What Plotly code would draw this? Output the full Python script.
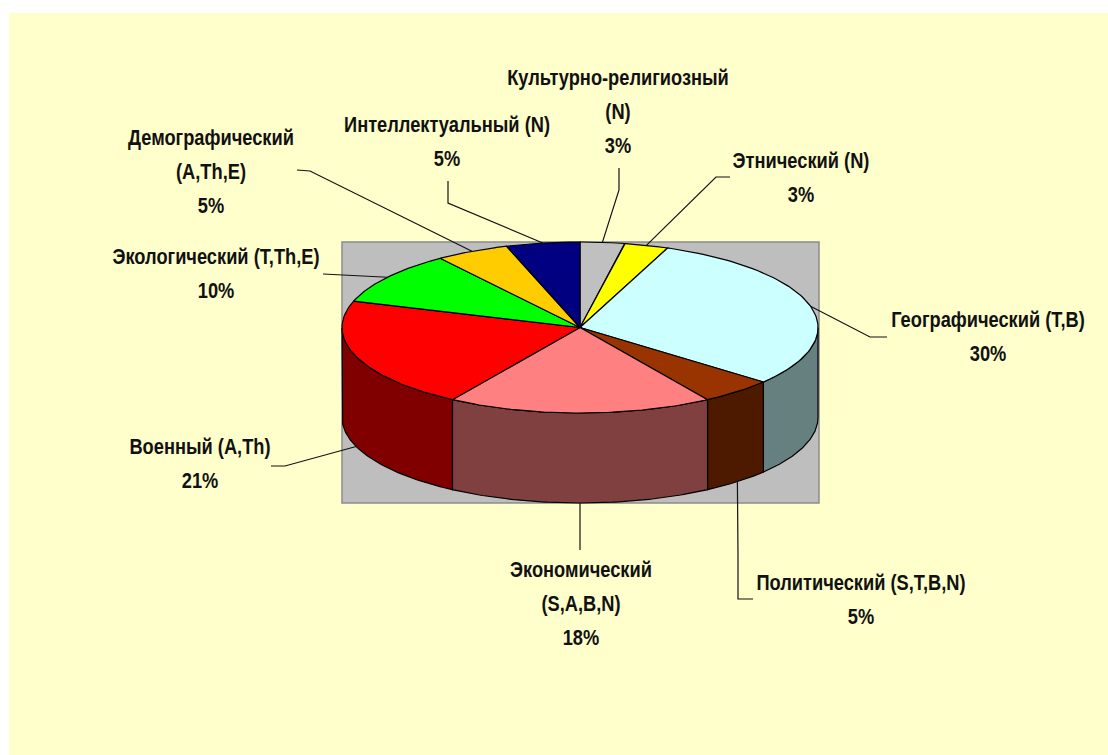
import numpy as np
import plotly.graph_objects as go

# slice data, clockwise from 12 o'clock
names = ["Культурно-религиозный", "Этнический", "Географический", "Политический",
         "Экономический", "Военный", "Экологический", "Демографический", "Интеллектуальный"]
values = [3, 3, 30, 5, 18, 21, 10, 5, 5]
top_colors = ["#C0C0C0", "#FFFF00", "#CCFFFF", "#993300", "#FF8080", "#FF0000", "#00FF00", "#FFCC00", "#000080"]
side_colors = ["#606060", "#808000", "#668080", "#4D1A00", "#804040", "#800000", "#008000", "#806600", "#000040"]

# label lines and where they sit (pixels of the 1108x755 page)
label_lines = [
    ["Культурно-религиозный", "(N)", "3%"],
    ["Этнический (N)", "3%"],
    ["Географический (T,B)", "30%"],
    ["Политический (S,T,B,N)", "5%"],
    ["Экономический", "(S,A,B,N)", "18%"],
    ["Военный (A,Th)", "21%"],
    ["Экологический (T,Th,E)", "10%"],
    ["Демографический", "(A,Th,E)", "5%"],
    ["Интеллектуальный (N)", "5%"],
]
label_x = [618, 801, 988, 861, 581, 200, 216, 211, 447]
label_y = [80, 163, 322, 585, 572, 449, 259, 140, 127]
line_gap = 34

# leader lines: label-side points, the last point is computed on the pie rim
leader_points = [
    [(619, 168), (619, 190)],
    [(730, 177), (716, 177)],
    [(887, 337), (870, 337)],
    [(753, 599), (738, 599), (738, 555)],
    [(580, 550), (580, 503)],
    [(271, 466), (285, 466)],
    [(323, 274), (360, 276)],
    [(297, 170), (310, 171)],
    [(448, 181), (448, 203)],
]

cx, cy, rx, ry, depth = 580, 327.5, 238, 85.5, 90


def rim(t, drop=0):
    t = np.radians(t)
    return cx + rx * np.sin(t), cy - ry * np.cos(t) + drop


bounds = np.cumsum([0] + values) * 3.6

fig = go.Figure()

# walls, only the front half of the pie shows
for i in range(len(values)):
    a, b = max(bounds[i], 90), min(bounds[i + 1], 270)
    if a >= b:
        continue
    t = np.linspace(a, b, 80)
    x1, y1 = rim(t)
    x2, y2 = rim(t[::-1], depth)
    fig.add_trace(go.Scatter(x=np.r_[x1, x2, x1[0]], y=np.r_[y1, y2, y1[0]], mode="lines", fill="toself",
                             fillcolor=side_colors[i], line=dict(color="black", width=1.2), hoverinfo="skip"))

# top faces
for i in range(len(values)):
    t = np.linspace(bounds[i], bounds[i + 1], 80)
    x1, y1 = rim(t)
    fig.add_trace(go.Scatter(x=np.r_[cx, x1, cx], y=np.r_[cy, y1, cy], mode="lines", fill="toself",
                             fillcolor=top_colors[i], line=dict(color="black", width=1.2), hoverinfo="skip"))

# leader lines
for i, pts in enumerate(leader_points):
    mid = (bounds[i] + bounds[i + 1]) / 2
    drop = depth if 90 < mid < 270 else 0
    ex, ey = rim(mid, drop)
    xs = [p[0] for p in pts] + [float(ex)]
    ys = [p[1] for p in pts] + [float(ey)]
    fig.add_trace(go.Scatter(x=xs, y=ys, mode="lines", line=dict(color="#111111", width=1.2), hoverinfo="skip"))

# labels, each text line on its own so the wide line spacing can be kept
for i, lines in enumerate(label_lines):
    fig.add_trace(go.Scatter(x=[label_x[i]] * len(lines), y=[label_y[i] + k * line_gap for k in range(len(lines))],
                             mode="text", text=["<b>%s</b>" % s for s in lines], textposition="middle center",
                             textfont=dict(family="Liberation Sans", size=22, color="#111111"),
                             hoverinfo="skip"))

fig.update_layout(
    width=1108, height=755, margin=dict(l=0, r=0, t=0, b=0), showlegend=False,
    paper_bgcolor="white", plot_bgcolor="rgba(0,0,0,0)",
    xaxis=dict(range=[0, 1108], visible=False, fixedrange=True),
    yaxis=dict(range=[755, 0], visible=False, fixedrange=True),
    shapes=[
        dict(type="rect", xref="x", yref="y", x0=9, y0=13, x1=1108, y1=755, layer="below",
             fillcolor="#FFFFCC", line=dict(width=0)),
        dict(type="rect", xref="x", yref="y", x0=342, y0=242, x1=819, y1=503, layer="below",
             fillcolor="#BEBEBE", line=dict(color="#8C8C8C", width=1.5)),
    ],
)

# the reference text is squeezed sideways, no installed font is that narrow
squeeze = """
document.body.style.margin = '0';
document.body.style.overflow = 'hidden';
setTimeout(function () {
  document.querySelectorAll('.textpoint text').forEach(function (t) {
    var x = parseFloat(t.getAttribute('x'));
    t.setAttribute('transform', 'translate(' + x + ' 0) scale(0.83 1) translate(' + (-x) + ' 0)');
  });
}, 50);
"""

fig.write_html("out.html", config=dict(displayModeBar=False), post_script=squeeze)
